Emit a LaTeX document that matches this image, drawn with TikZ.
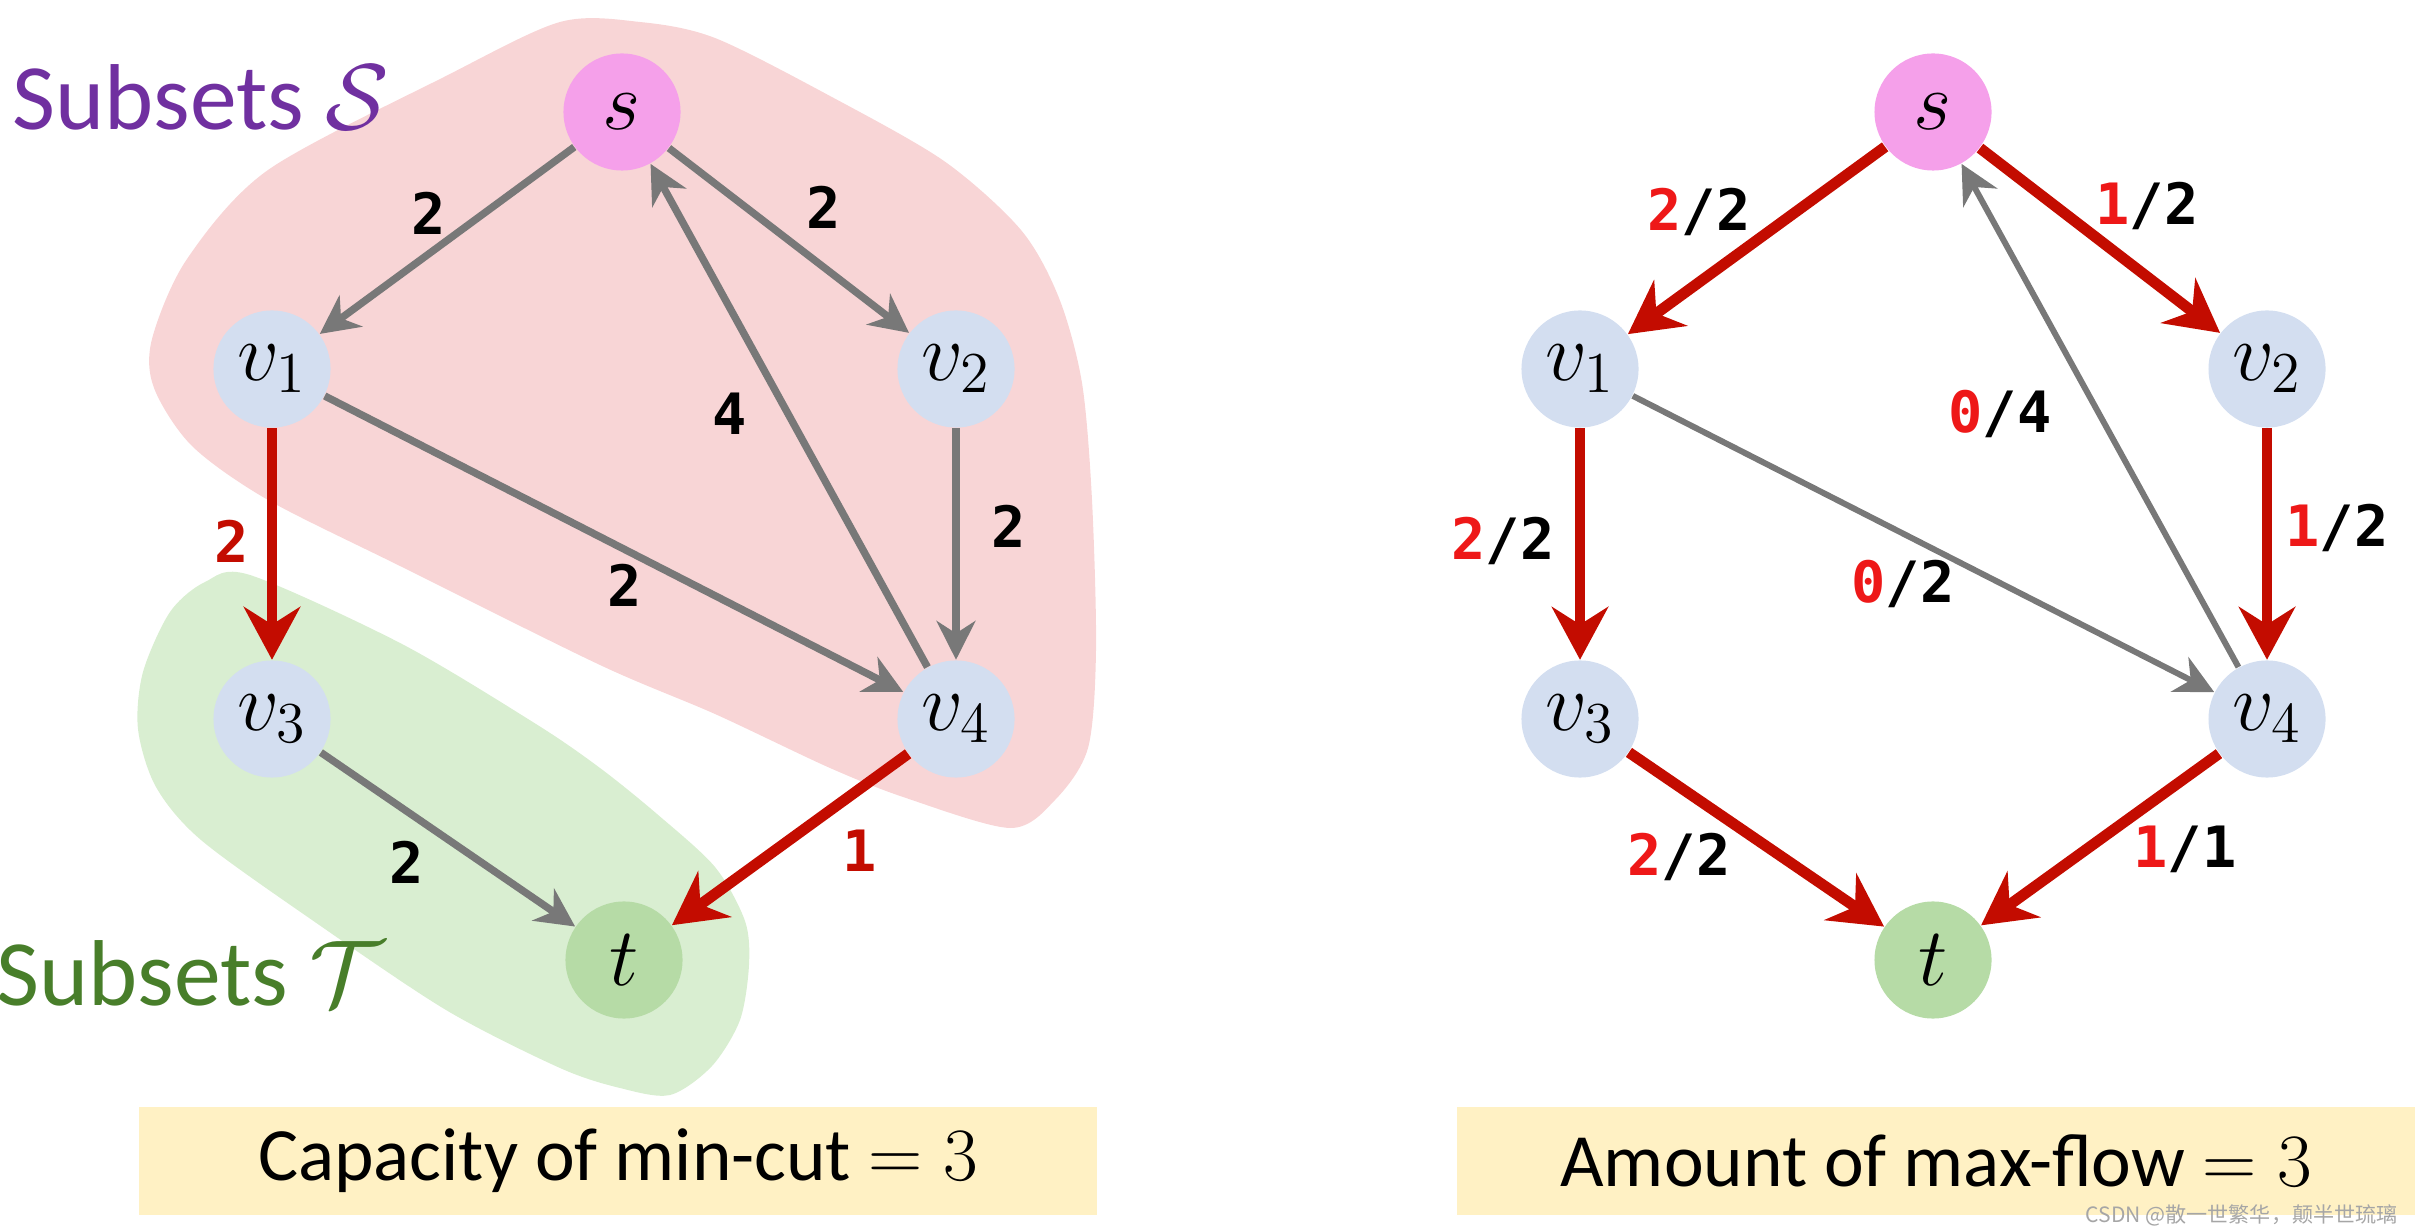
\RequirePackage{fix-cm}
\documentclass[tikz,border=0pt]{standalone}
\usepackage[no-math]{fontspec}
\setmainfont{Carlito}
\newfontfamily\capfont{DejaVu Sans Mono}
\newfontfamily\cjkfont{Noto Sans CJK SC}
\usetikzlibrary{positioning,arrows.meta}

\definecolor{setpink}{RGB}{248,213,214}
\definecolor{setgreen}{RGB}{217,238,209}
\definecolor{nodeblue}{RGB}{211,222,240}
\definecolor{srcpink}{RGB}{245,160,234}
\definecolor{sinkgreen}{RGB}{182,219,166}
\definecolor{edgegray}{RGB}{120,120,120}
\definecolor{cutred}{RGB}{195,12,0}
\definecolor{flowred}{RGB}{238,24,24}
\definecolor{subsetpurple}{RGB}{112,48,160}
\definecolor{subsetgreen}{RGB}{72,126,42}
\definecolor{resultyellow}{RGB}{255,241,196}

\tikzset{
  vertex/.style={circle, fill=nodeblue, minimum size=1.17cm, inner sep=0pt,
    font=\fontsize{23.5}{23.5}\selectfont},
  source/.style={vertex, fill=srcpink},
  sink/.style={vertex, fill=sinkgreen},
  capedge/.style={draw=edgegray, line width=2.1pt,
    -{Stealth[length=11pt,width=11pt,inset=3.5pt]}},
  idleedge/.style={capedge, line width=1.7pt},
  cutedge/.style={draw=cutred, line width=3.1pt,
    -{Stealth[length=15pt,width=16pt,inset=5pt]}},
  caplabel/.style={font=\capfont\bfseries\fontsize{16.2}{17}\selectfont},
  subsetlabel/.style={anchor=base west, inner sep=0pt,
    font=\fontsize{26.6}{28}\selectfont},
  resultbox/.style={fill=resultyellow, minimum width=9.57cm, minimum height=1.07cm,
    inner sep=0pt, font=\fontsize{21.4}{22}\selectfont}
}
\newcommand{\fl}[2]{\textcolor{flowred}{#1}/#2}

\begin{document}
\begin{tikzpicture}[x=0.01cm, y=-0.01cm]
	\useasboundingbox (0,0) rectangle (2430,1231);
	
	% subsets S and T
	\fill[setpink] plot[smooth cycle, tension=0.5] coordinates {
		(446,76) (560,22) (640,22) (715,38) (830,96) (944,161) (1021,230)
		(1059,298) (1082,383) (1092,500) (1096,650) (1088,748) (1055,800)
		(1010,828) (906,798) (830,768) (715,714) (600,665) (402,567)
		(268,500) (192,446) (154,388) (152,339) (187,259) (268,170)};
	\fill[setgreen] plot[smooth cycle, tension=0.5] coordinates {
		(250,575) (402,644) (536,724) (600,768) (657,814) (715,867)
		(745,921) (749,965) (740,1020) (712,1066) (670,1095) (620,1088)
		(560,1068) (446,1010) (312,920) (201,840) (156,787) (138,729)
		(143,672) (170,612) (205,582)};
	\node[subsetlabel, text=subsetpurple] (subS) at (12,130) {Subsets $\mathcal{S}$};
	\node[subsetlabel, text=subsetgreen] (subT) at (-4,1005) {Subsets $\mathcal{T}$};
	
	% min-cut graph
	\node[source] (s) at (622,112) {$s$};
	\node[vertex] (v1) at (272,369) {$v_1$};
	\node[vertex] (v2) at (956,369) {$v_2$};
	\node[vertex] (v3) at (272,719) {$v_3$};
	\node[vertex] (v4) at (956,719) {$v_4$};
	\node[sink] (t) at (624,960) {$t$};
	\draw[capedge] (s) -- (v1);
	\draw[capedge] (s) -- (v2);
	\draw[capedge] (v4) -- (s);
	\draw[capedge] (v1) -- (v4);
	\draw[capedge] (v2) -- (v4);
	\draw[capedge] (v3) -- (t);
	\draw[cutedge] (v1) -- (v3);
	\draw[cutedge] (v4) -- (t);
	\node[caplabel] (c-sv1) at (429,213) {2};
	\node[caplabel] (c-sv2) at (824,207) {2};
	\node[caplabel] (c-v4s) at (730,414) {4};
	\node[caplabel] (c-v2v4) at (1009,526) {2};
	\node[caplabel] (c-v1v4) at (625,585) {2};
	\node[caplabel, text=cutred] (c-v1v3) at (232,541) {2};
	\node[caplabel] (c-v3t) at (407,862) {2};
	\node[caplabel, text=cutred] (c-v4t) at (860,851) {1};
	\node[resultbox] (cutbox) at (618,1161) {Capacity of min-cut $=3$};
	
	% max-flow graph
	\node[source] (fs) at (1933,112) {$s$};
	\node[vertex] (fv1) at (1580,369) {$v_1$};
	\node[vertex] (fv2) at (2267,369) {$v_2$};
	\node[vertex] (fv3) at (1580,719) {$v_3$};
	\node[vertex] (fv4) at (2267,719) {$v_4$};
	\node[sink] (ft) at (1933,960) {$t$};
	\draw[idleedge] (fv1) -- (fv4);
	\draw[idleedge] (fv4) -- (fs);
	\draw[cutedge] (fs) -- (fv1);
	\draw[cutedge] (fs) -- (fv2);
	\draw[cutedge] (fv1) -- (fv3);
	\draw[cutedge] (fv2) -- (fv4);
	\draw[cutedge] (fv3) -- (ft);
	\draw[cutedge] (fv4) -- (ft);
	\node[caplabel] (f-sv1) at (1699,212) {\fl{2}{2}};
	\node[caplabel] (f-sv2) at (2147,206) {\fl{1}{2}};
	\node[caplabel] (f-v4s) at (2000,414) {\fl{0}{4}};
	\node[caplabel] (f-v2v4) at (2337,528) {\fl{1}{2}};
	\node[caplabel] (f-v1v4) at (1903,584) {\fl{0}{2}};
	\node[caplabel] (f-v1v3) at (1503,541) {\fl{2}{2}};
	\node[caplabel] (f-v3t) at (1679,857) {\fl{2}{2}};
	\node[caplabel] (f-v4t) at (2185,849) {\fl{1}{1}};
	\node[resultbox] (flowbox) at (1936,1161) {Amount of max-flow $=3$};
	\node[anchor=base east, text=black!35, font=\cjkfont\fontsize{6}{6}\selectfont]
		(mark) at (2410,1222) {CSDN @散一世繁华，颠半世琉璃};
\end{tikzpicture}
\end{document}
